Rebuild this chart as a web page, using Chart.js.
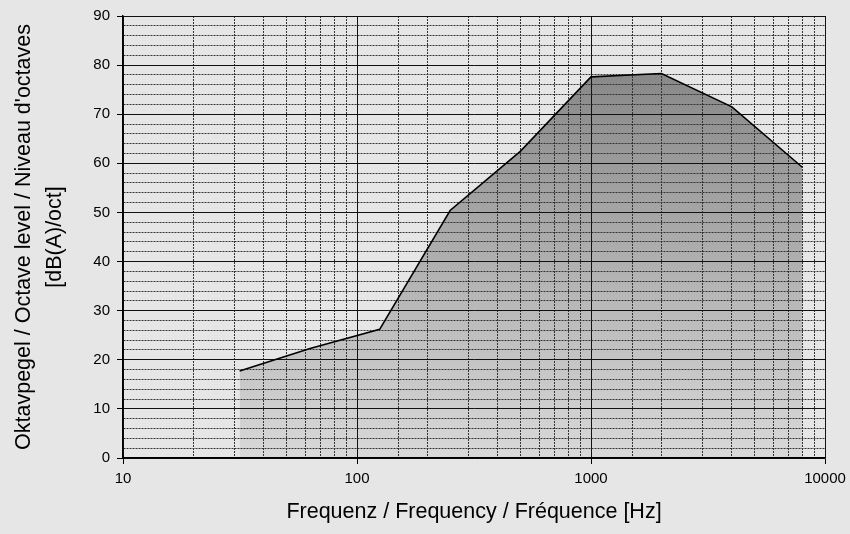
<!DOCTYPE html>
<html><head><meta charset="utf-8">
<script src="https://cdn.jsdelivr.net/npm/chart.js@4.4.1/dist/chart.umd.min.js"></script>
<style>
html,body{margin:0;padding:0;background:#e6e6e6;}
#wrap{width:850px;height:534px;position:relative;}
</style></head><body>
<div id="wrap"><canvas id="c" width="850" height="534"></canvas></div>
<script>
const frequencies = [31.5, 63, 125, 250, 500, 1000, 2000, 4000, 8000];
const levels = [17.7, 22.3, 26.2, 50.4, 62.5, 77.6, 78.3, 71.5, 59.2];
const xTickLabels = [10, 100, 1000, 10000];
const yTickLabels = [0, 10, 20, 30, 40, 50, 60, 70, 80, 90];
const yTitle = ["Oktavpegel / Octave level / Niveau d'octaves", "[dB(A)/oct]"];
const xTitle = "Frequenz / Frequency / Fréquence [Hz]";

const FONT = "'Liberation Sans', Arial, sans-serif";
const isMajorX = v => xTickLabels.includes(Math.round(v));
const isMajorY = v => yTickLabels.includes(Math.round(v));

new Chart(document.getElementById('c'), {
  type: 'line',
  data: {
    datasets: [{
      data: frequencies.map((f, i) => ({x: f, y: levels[i]})),
      borderColor: '#000',
      borderWidth: 1.6,
      pointRadius: 0,
      tension: 0,
      fill: 'origin',
      backgroundColor: (ctx) => {
        const chart = ctx.chart;
        const a = chart.chartArea;
        if (!a) return '#aaa';
        const ys = chart.scales.y;
        const g = chart.ctx.createLinearGradient(0, ys.getPixelForValue(Math.max(...levels)), 0, ys.getPixelForValue(0));
        g.addColorStop(0, '#888888');
        g.addColorStop(1, '#d9d9d9');
        return g;
      }
    }]
  },
  options: {
    responsive: false,
    animation: false,
    layout: {padding: {left: 0, right: 25, top: 15, bottom: 0}},
    plugins: {legend: {display: false}, tooltip: {enabled: false}, filler: {drawTime: 'beforeDraw'}},
    scales: {
      x: {
        type: 'logarithmic',
        min: 10, max: 10000,
        afterFit(s) { s.height = 76; s.paddingRight = 0; },
        border: {display: true, color: '#000', width: 1.5,
          dash: (c) => (c.tick && isMajorX(c.tick.value)) ? [] : [2, 1]},
        grid: {
          color: (c) => (c.tick && isMajorX(c.tick.value)) ? '#111' : '#333',
          lineWidth: 1,
          tickLength: 6,
          tickColor: (c) => (c.tick && isMajorX(c.tick.value)) ? '#000' : 'rgba(0,0,0,0)'
        },
        ticks: {
          autoSkip: false, maxRotation: 0,
          color: '#000', font: {family: FONT, size: 15}, padding: 6,
          callback: (v) => isMajorX(v) ? String(Math.round(v)) : ''
        },
        title: {display: true, text: xTitle, color: '#000', font: {family: FONT, size: 21.5, lineHeight: 1.2}, padding: {top: 0, bottom: 9}}
      },
      y: {
        min: 0, max: 90,
        afterFit(s) { s.width = 123; },
        border: {display: true, color: '#000', width: 1.5,
          dash: (c) => (c.tick && isMajorY(c.tick.value)) ? [] : [2, 1]},
        grid: {
          color: (c) => (c.tick && isMajorY(c.tick.value)) ? '#111' : '#333',
          lineWidth: 1,
          tickLength: 6,
          tickColor: (c) => (c.tick && isMajorY(c.tick.value)) ? '#000' : 'rgba(0,0,0,0)'
        },
        ticks: {
          stepSize: 2, autoSkip: false,
          color: '#000', font: {family: FONT, size: 15}, padding: 7,
          callback: (v) => isMajorY(v) ? String(v) : ''
        },
        title: {display: true, text: yTitle, color: '#000', font: {family: FONT, size: 21.5, lineHeight: 1.45}, padding: {top: 8, bottom: 0}}
      }
    }
  }
});
</script>
</body></html>
